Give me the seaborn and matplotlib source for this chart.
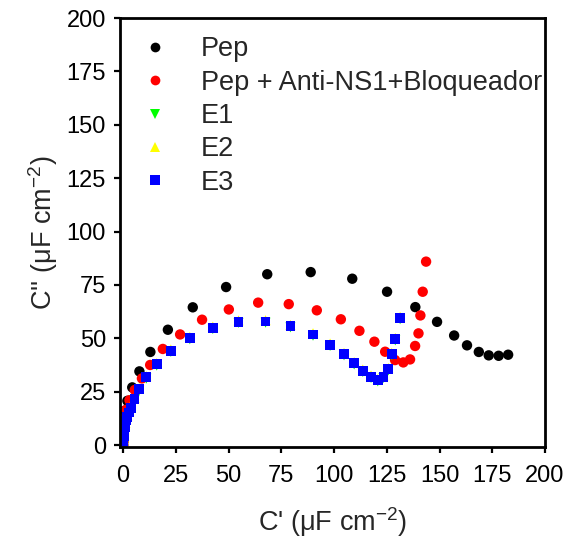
import matplotlib
matplotlib.use("Agg")
import matplotlib.pyplot as plt
from matplotlib.lines import Line2D
import seaborn as sns
import pandas as pd

# Nyquist-type capacitance plot: C'' vs C'
pep_x = [0.0, 0.05, 0.1, 0.15, 0.2, 0.3, 0.4, 0.6, 2.0, 4.3, 7.7, 12.9, 21.2, 33.0, 48.8,
         68.3, 88.9, 108.6, 125.1, 138.5, 148.8, 156.9, 163.0, 168.6, 173.3, 178.0, 182.5]
pep_y = [0.0, 1.5, 3.5, 5.5, 7.5, 10.0, 12.5, 16.0, 20.7, 27.0, 34.5, 43.6, 54.0, 64.5, 74.0,
         80.0, 81.0, 77.9, 71.8, 64.6, 57.7, 51.3, 46.7, 43.6, 42.0, 41.8, 42.3]

blk_x = [0.0, 0.05, 0.1, 0.2, 0.3, 0.5, 0.8, 1.4, 3.0, 5.5, 8.9, 12.8, 18.8, 27.0, 37.4, 50.1,
         64.0, 78.5, 91.8, 103.2, 112.0, 119.1, 124.2, 128.9, 132.8, 136.0, 138.4, 140.0,
         140.9, 142.0, 143.6]
blk_y = [0.0, 1.5, 3.5, 5.5, 7.5, 10.0, 13.0, 16.5, 21.0, 25.8, 31.2, 37.5, 45.0, 51.8, 58.7,
         63.5, 66.7, 66.0, 63.1, 58.9, 53.5, 48.4, 43.7, 39.8, 38.7, 40.1, 46.4, 52.3,
         60.7, 71.8, 85.9]

e3_x = [0.0, 0.05, 0.1, 0.2, 0.3, 0.4, 0.6, 0.8, 1.1, 1.5, 2.0, 2.7, 3.6, 5.4, 7.6, 11.0,
        15.9, 22.6, 31.6, 42.5, 54.7, 67.5, 79.3, 90.0, 98.1, 104.7, 109.5, 113.6, 117.5,
        120.7, 123.4, 125.7, 127.3, 129.0, 131.3]
e3_y = [0.0, 1.0, 2.0, 3.0, 4.2, 5.4, 6.8, 8.2, 9.8, 11.5, 13.2, 15.2, 17.2, 21.5, 26.1, 31.7,
        37.8, 44.2, 50.1, 54.9, 57.8, 57.9, 55.7, 51.8, 47.0, 42.6, 38.3, 34.8, 32.0,
        30.4, 32.0, 35.5, 42.6, 49.6, 59.5]

e1_x = list(e3_x)
e1_y = [v - 0.6 for v in e3_y]
e2_x = list(e3_x)
e2_y = [v + 0.6 for v in e3_y]

labels = ["Pep", "Pep + Anti-NS1+Bloqueador", "E1", "E2", "E3"]
colors = ["#000000", "#ff0000", "#00ff00", "#ffff00", "#0000ff"]
markers = ["o", "o", "v", "^", "s"]
sizes = [56, 56, 52, 52, 50]

sns.set_theme(style="white")
plt.rcParams["font.family"] = ["Liberation Sans", "DejaVu Sans"]
plt.rcParams["mathtext.fontset"] = "custom"
plt.rcParams["mathtext.rm"] = "Liberation Sans"
plt.rcParams["mathtext.it"] = "Liberation Sans:italic"

fig = plt.figure(figsize=(5.66, 5.46), dpi=100)
ax = fig.add_axes([0.212, 0.181, 0.751, 0.786])

series = [(pep_x, pep_y), (blk_x, blk_y), (e1_x, e1_y), (e2_x, e2_y), (e3_x, e3_y)]
for (xs, ys), lab, c, m, s in zip(series, labels, colors, markers, sizes):
    df = pd.DataFrame({"x": xs, "y": ys})
    sns.scatterplot(data=df, x="x", y="y", ax=ax, color=c, marker=m, s=s,
                    edgecolor="none", linewidth=0, legend=False)

ax.set_xlim(-1.5, 200)
ax.set_ylim(-1, 200)
ax.set_xticks(range(0, 201, 25))
ax.set_yticks(range(0, 201, 25))
ax.tick_params(axis="both", direction="out", length=4, width=1.6, labelsize=17,
               bottom=True, left=True, top=False, right=False, colors="black")
ax.tick_params(axis="x", pad=9)
ax.tick_params(axis="y", pad=6)
for sp in ax.spines.values():
    sp.set_visible(True)
    sp.set_color("black")
    sp.set_linewidth(2.0)

ax.set_xlabel("C' (μF cm$^{-2}$)", fontsize=19.5, labelpad=13)
ax.set_ylabel("C'' (μF cm$^{-2}$)", fontsize=19.5, labelpad=5)

handles = [Line2D([], [], linestyle="none", marker=m, color=c, markersize=7,
                  markeredgewidth=0)
           for c, m in zip(colors, markers)]
ax.legend(handles, labels, loc="upper left", bbox_to_anchor=(0.0, 0.995),
          frameon=False, fontsize=19.5, handletextpad=1.0, labelspacing=0.27,
          borderaxespad=0.2, handlelength=1.4)

fig.savefig("out.png", dpi=100)
